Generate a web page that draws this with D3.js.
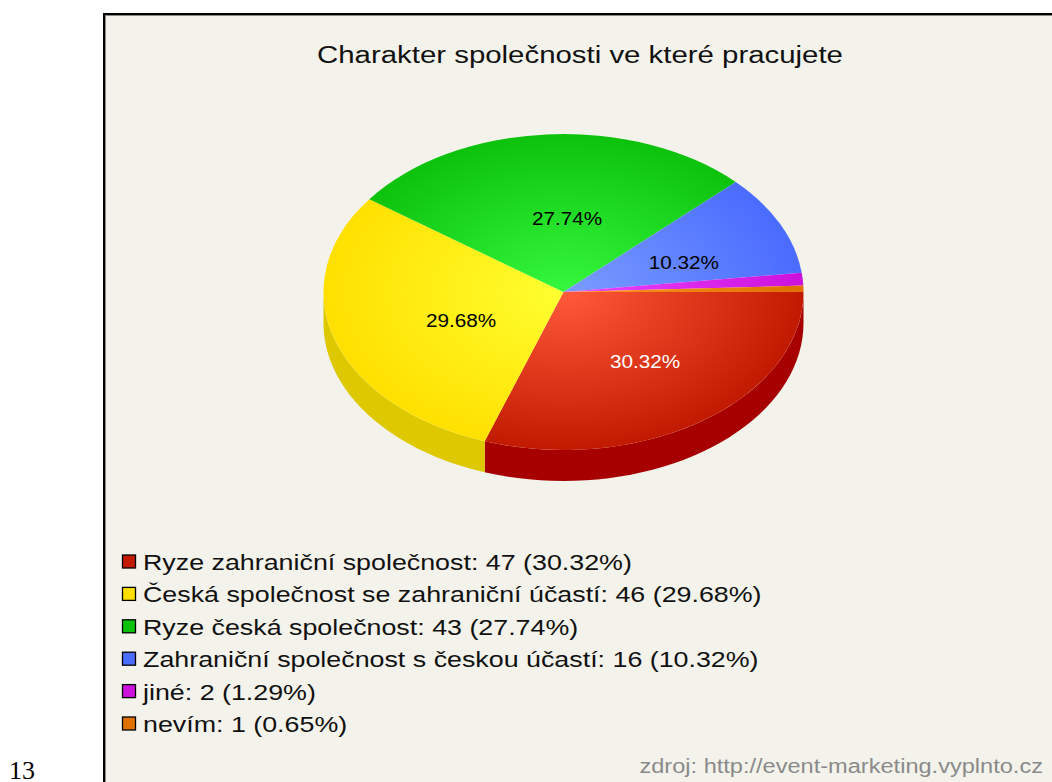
<!DOCTYPE html>
<html>
<head>
<meta charset="utf-8">
<script src="https://cdn.jsdelivr.net/npm/d3@7"></script>
<style>
  body { margin: 0; background: #fff; }
  svg { display: block; }
</style>
</head>
<body>
<div id="chart"></div>
<script>
// data
var labels = ["Ryze zahraniční společnost", "Česká společnost se zahraniční účastí", "Ryze česká společnost",
              "Zahraniční společnost s českou účastí", "jiné", "nevím"]
var counts = [47, 46, 43, 16, 2, 1]
var percents = ["30.32%", "29.68%", "27.74%", "10.32%", "1.29%", "0.65%"]
// face colours: light (centre), dark (edge), side
var lightCols = ["#ff5a3a", "#ffff30", "#36f83e", "#7a9cff", "#ee44ff", "#ff9922"]
var darkCols  = ["#c21a00", "#ffe000", "#0cc20c", "#4a6cff", "#cc11dd", "#e07000"]
var sideCols  = ["#a60000", "#dec800", "#089808", "#3050c8", "#a000b0", "#b05000"]
var labelCols = ["#ffffff", "#000000", "#000000", "#000000", "#000000", "#000000"]
var title = "Charakter společnosti ve které pracujete"
var source = "zdroj: http://event-marketing.vyplnto.cz"

var W = 1052, H = 782
var cx = 563.5, cy = 292, rx = 240, ry = 158, depth = 31
// the original picture is stretched sideways a bit
var stretch = 1.2

var svg = d3.select("#chart").append("svg")
    .attr("width", W).attr("height", H)

// page number outside the frame
svg.append("text").text("13")
    .attr("x", 9).attr("y", 779)
    .attr("font-family", "Liberation Serif").attr("font-size", 26)
    .attr("fill", "#000")

// frame
svg.append("rect").attr("x", 104).attr("y", 14).attr("width", 960).attr("height", 800)
    .attr("fill", "#f3f3eb").attr("stroke", "#000").attr("stroke-width", 2)
svg.append("line").attr("x1", 105.5).attr("x2", 105.5).attr("y1", 15).attr("y2", 782)
    .attr("stroke", "#8a8a80").attr("stroke-width", 1)
svg.append("line").attr("x1", 105).attr("x2", 1052).attr("y1", 15.5).attr("y2", 15.5)
    .attr("stroke", "#8a8a80").attr("stroke-width", 1)

svg.append("text").text(title)
    .attr("transform", "translate(580,63) scale(" + stretch + ",1)")
    .attr("text-anchor", "middle")
    .attr("font-family", "Liberation Sans").attr("font-size", 24.5)
    .attr("fill", "#111")

var defs = svg.append("defs")
lightCols.forEach(function(c, i) {
  var g = defs.append("radialGradient").attr("id", "g" + i)
      .attr("gradientUnits", "userSpaceOnUse")
      .attr("cx", 0).attr("cy", 0).attr("r", rx)
  g.append("stop").attr("offset", "0%").attr("stop-color", c)
  g.append("stop").attr("offset", "100%").attr("stop-color", darkCols[i])
})

// d3.pie angles start at 12 o'clock; start at 3 o'clock and go clockwise
var pie = d3.pie().sort(null).startAngle(Math.PI / 2).endAngle(Math.PI / 2 + 2 * Math.PI)
var arcs = pie(counts)

// side wall for the front half (screen angle 0..PI)
function ellX(a) { return cx + rx * Math.cos(a) }
function ellY(a, dy) { return cy + dy + ry * Math.sin(a) }
function sidePath(a0, a1) {
  var n = 40, pts = [], i, a
  for (i = 0; i <= n; i++) { a = a0 + (a1 - a0) * i / n; pts.push([ellX(a), ellY(a, 0)]) }
  for (i = n; i >= 0; i--) { a = a0 + (a1 - a0) * i / n; pts.push([ellX(a), ellY(a, depth)]) }
  return d3.line()(pts) + "Z"
}

var sides = svg.append("g")
arcs.forEach(function(d, i) {
  var a0 = d.startAngle - Math.PI / 2, a1
  a0 = ((a0 % (2 * Math.PI)) + 2 * Math.PI) % (2 * Math.PI)
  a1 = a0 + (d.endAngle - d.startAngle)
  var s = Math.max(a0, 0), e = Math.min(a1, Math.PI)
  if (e > s) sides.append("path").attr("d", sidePath(s, e)).attr("fill", sideCols[i])
  s = Math.max(a0, 2 * Math.PI), e = Math.min(a1, 3 * Math.PI)
  if (e > s) sides.append("path").attr("d", sidePath(s, e)).attr("fill", sideCols[i])
})

// top face: circular arcs squashed to ellipse
var arc = d3.arc().innerRadius(0).outerRadius(rx)
var face = svg.append("g")
    .attr("transform", "translate(" + cx + "," + cy + ") scale(1," + (ry / rx) + ")")
face.selectAll("path").data(arcs).enter().append("path")
    .attr("d", arc)
    .attr("fill", function(d, i) { return "url(#g" + i + ")" })

// slice labels (only the four big ones are labelled)
svg.append("g").selectAll("text").data(arcs.filter(function(d) { return d.value > 5 }))
  .enter().append("text")
    .attr("transform", function(d) {
      var c = arc.centroid(d)
      return "translate(" + (cx + c[0] + 12) + "," + (cy + c[1] * ry / rx + 5) + ") scale(1.12,1)"
    })
    .attr("dy", "0.35em")
    .attr("text-anchor", "middle")
    .attr("font-family", "Liberation Sans").attr("font-size", 18.5)
    .attr("fill", function(d) { return labelCols[d.index] })
    .text(function(d) { return percents[d.index] })

// legend
var legend = svg.append("g").attr("transform", "translate(122,562)")
var row = legend.selectAll("g").data(labels).enter().append("g")
    .attr("transform", function(d, i) { return "translate(0," + (i * 32.4) + ")" })
row.append("rect").attr("x", 0.5).attr("y", -7).attr("width", 13).attr("height", 13)
    .attr("fill", function(d, i) { return darkCols[i] })
    .attr("stroke", "#000").attr("stroke-width", 1.3)
row.append("text")
    .attr("transform", "translate(21,0) scale(1.22,1)")
    .attr("dy", "0.36em")
    .attr("font-family", "Liberation Sans").attr("font-size", 22)
    .attr("fill", "#111")
    .text(function(d, i) { return d + ": " + counts[i] + " (" + percents[i] + ")" })

svg.append("text").text(source)
    .attr("transform", "translate(1043,773) scale(1.21,1)")
    .attr("text-anchor", "end")
    .attr("font-family", "Liberation Sans").attr("font-size", 19.5)
    .attr("fill", "#8a8a8a")
</script>
</body>
</html>
